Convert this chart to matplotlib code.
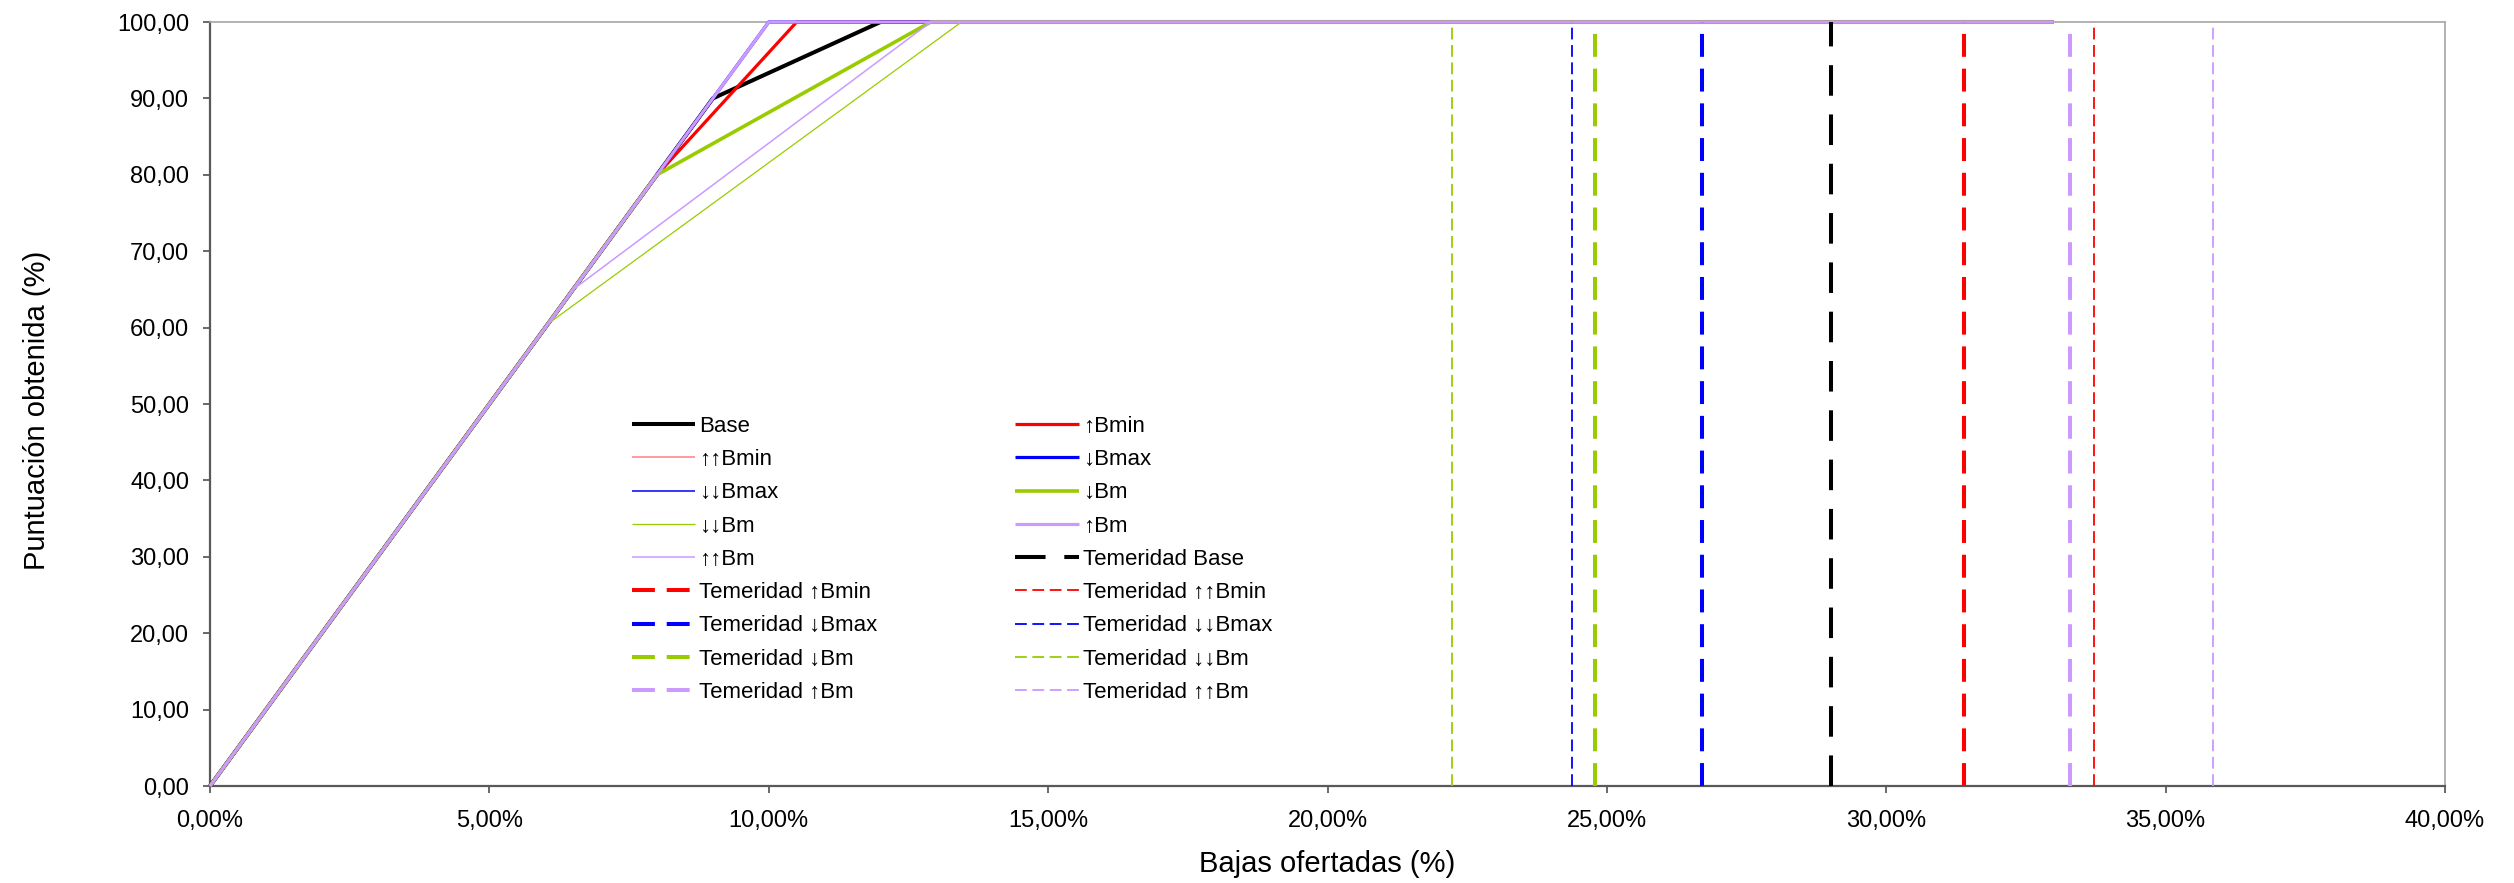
import matplotlib
matplotlib.use('Agg')
import matplotlib.pyplot as plt
from matplotlib.ticker import FuncFormatter, MultipleLocator

plt.rcParams['font.family'] = ['Liberation Sans', 'DejaVu Sans']
plt.rcParams['lines.scale_dashes'] = False

# curvas de puntuacion (x = baja %, y = puntos)
base_x = [0, 9, 12, 33]
base_y = [0, 90, 100, 100]
up_bmin_x = [0, 8, 10.5, 33]
up_bmin_y = [0, 80, 100, 100]
upup_bmin_x = [0, 10, 33]
upup_bmin_y = [0, 100, 100]
dn_bmax_x = [0, 10, 33]
dn_bmax_y = [0, 100, 100]
dndn_bmax_x = [0, 10, 33]
dndn_bmax_y = [0, 100, 100]
dn_bm_x = [0, 8, 12.9, 33]
dn_bm_y = [0, 80, 100, 100]
dndn_bm_x = [0, 6.05, 13.45, 33]
dndn_bm_y = [0, 60.5, 100, 100]
up_bm_x = [0, 10, 33]
up_bm_y = [0, 100, 100]
upup_bm_x = [0, 6.5, 12.9, 33]
upup_bm_y = [0, 65, 100, 100]

# umbrales de temeridad (%)
tem_names = ['Base', '↑Bmin', '↑↑Bmin', '↓Bmax', '↓↓Bmax', '↓Bm', '↓↓Bm', '↑Bm', '↑↑Bm']
tem_values = [29.02, 31.39, 33.71, 26.70, 24.37, 24.78, 22.23, 33.28, 35.84]

RED = '#FF0000'
SALMON = '#FF8080'
BLUE = '#0000FF'
GREEN = '#99CC00'
PURPLE = '#CC99FF'

W, H = 2514, 883
fig = plt.figure(figsize=(W/100, H/100), dpi=100)
ax = fig.add_axes([210/W, (H-786)/H, (2445-210)/W, (786-22)/H])

handles = []
solid = [
    (base_x, base_y, 'Base', 'black', 2.9),
    (up_bmin_x, up_bmin_y, '↑Bmin', RED, 2.3),
    (upup_bmin_x, upup_bmin_y, '↑↑Bmin', SALMON, 1.1),
    (dn_bmax_x, dn_bmax_y, '↓Bmax', BLUE, 2.3),
    (dndn_bmax_x, dndn_bmax_y, '↓↓Bmax', BLUE, 1.1),
    (dn_bm_x, dn_bm_y, '↓Bm', GREEN, 2.6),
    (dndn_bm_x, dndn_bm_y, '↓↓Bm', GREEN, 0.9),
    (up_bm_x, up_bm_y, '↑Bm', PURPLE, 2.3),
    (upup_bm_x, upup_bm_y, '↑↑Bm', PURPLE, 1.1),
]
for xs, ys, lab, col, lw in solid:
    h, = ax.plot(xs, ys, color=col, lw=lw, label=lab, clip_on=False,
                 solid_capstyle='butt', zorder=3)
    handles.append(h)

tem_colors = ['black', RED, RED, BLUE, BLUE, GREEN, GREEN, PURPLE, PURPLE]
for i, (name, v) in enumerate(zip(tem_names, tem_values)):
    if name == 'Base':
        lw, dash = 2.9, (22, 13.5)
    elif name.count('↑') + name.count('↓') == 2:
        lw, dash = 1.3, (8.5, 4)
    else:
        lw, dash = 2.9, (16.5, 8.5)
    h, = ax.plot([v, v], [0, 100], color=tem_colors[i], lw=lw,
                 dashes=dash, label='Temeridad ' + name, clip_on=False,
                 dash_capstyle='butt', zorder=3)
    handles.append(h)

ax.set_xlim(0, 40)
ax.set_ylim(0, 100)
ax.xaxis.set_major_locator(MultipleLocator(5))
ax.yaxis.set_major_locator(MultipleLocator(10))
ax.xaxis.set_major_formatter(FuncFormatter(lambda v, p: f'{v:.2f}'.replace('.', ',') + '%'))
ax.yaxis.set_major_formatter(FuncFormatter(lambda v, p: f'{v:.2f}'.replace('.', ',')))
ax.tick_params(labelsize=17, length=5, width=1.1, colors='#404040', labelcolor='black')
ax.tick_params(axis='x', pad=12.5)
ax.tick_params(axis='y', pad=10)

for s in ['left', 'bottom']:
    ax.spines[s].set_color('#595959')
    ax.spines[s].set_linewidth(1.6)
for s in ['top', 'right']:
    ax.spines[s].set_color('#A6A6A6')
    ax.spines[s].set_linewidth(1.2)

# titulos de ejes colocados como en Excel
fig.text(1327/W, (H-872)/H, 'Bajas ofertadas (%)', fontsize=21,
         ha='center', va='baseline')
fig.text(45/W, (H-410)/H, 'Puntuación obtenida (%)', fontsize=21,
         rotation=90, rotation_mode='anchor', ha='center', va='baseline')

# Excel ordena la leyenda por filas
order = handles[0::2] + handles[1::2]
fig.legend(order, [h.get_label() for h in order], ncol=2, frameon=False,
           loc='upper left', bbox_to_anchor=(632/W, (H-416)/H),
           borderpad=0, borderaxespad=0, fontsize=16, handlelength=2.85,
           handletextpad=0.18, columnspacing=6.2, labelspacing=0.55)

fig.savefig('out.png', dpi=100)
